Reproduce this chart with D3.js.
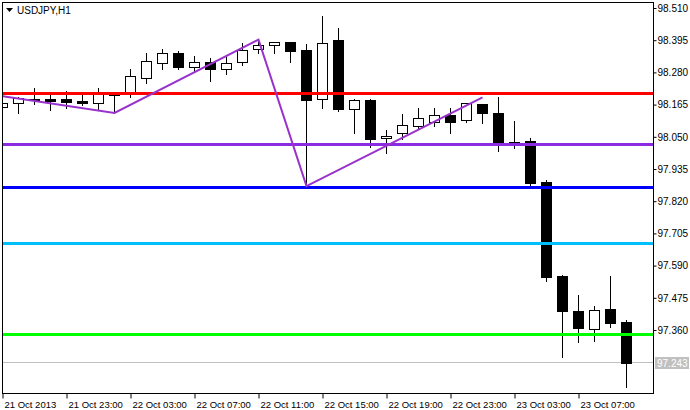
<!DOCTYPE html>
<html><head><meta charset="utf-8">
<script src="https://cdn.jsdelivr.net/npm/d3@7"></script>
<style>html,body{margin:0;padding:0;background:#fff;}svg{display:block;}</style>
</head><body>
<script>
// ---- data ----
const opens  = [98.158,98.170,98.184,98.185,98.185,98.178,98.172,98.205,98.205,98.261,
                98.315,98.348,98.300,98.316,98.293,98.318,98.362,98.377,98.387,98.360,
                98.184,98.396,98.150,98.181,98.045,98.063,98.090,98.104,98.127,98.109,
                98.167,98.135,98.031,98.035,97.888,97.553,97.427,97.365,97.434,97.388];
const highs  = [98.171,98.192,98.223,98.210,98.215,98.209,98.223,98.206,98.292,98.349,
                98.364,98.356,98.339,98.330,98.336,98.384,98.397,98.387,98.387,98.381,
                98.481,98.439,98.184,98.185,98.074,98.131,98.153,98.152,98.152,98.170,
                98.167,98.193,98.106,98.046,97.896,97.556,97.485,97.446,97.553,97.396];
const lows   = [98.156,98.136,98.167,98.146,98.152,98.165,98.146,98.135,98.193,98.243,
                98.291,98.291,98.283,98.250,98.275,98.308,98.350,98.350,98.318,97.874,
                98.154,98.143,98.065,98.013,97.993,98.041,98.077,98.090,98.065,98.104,
                98.100,98.000,98.011,97.868,97.536,97.265,97.318,97.322,97.372,97.158];
const closes = [98.169,98.190,98.183,98.179,98.173,98.171,98.202,98.200,98.267,98.320,
                98.348,98.300,98.316,98.293,98.313,98.360,98.378,98.387,98.357,98.182,
                98.384,98.150,98.181,98.043,98.053,98.091,98.116,98.127,98.104,98.170,
                98.136,98.029,98.029,97.886,97.550,97.429,97.368,97.430,97.386,97.243];
const yTicks = [98.510,98.395,98.280,98.165,98.050,97.935,97.820,97.705,97.590,97.475,97.360];
const xTickIdx = [0,4,8,12,16,20,24,28,32,36];
const xTickLabels = ["21 Oct 2013","21 Oct 23:00","22 Oct 03:00","22 Oct 07:00","22 Oct 11:00",
                     "22 Oct 15:00","22 Oct 19:00","22 Oct 23:00","23 Oct 03:00","23 Oct 07:00"];
const levelPrices = [98.206, 98.024, 97.870, 97.670, 97.345];
const levelColors = ["#ff0000","#8a2be2","#0000ff","#00bfff","#00ff00"];
const zzIdx   = [0, 7, 16, 19, 30];
const zzPrice = [98.195, 98.135, 98.397, 97.874, 98.191];
const lastPrice = 97.243;
const title = "USDJPY,H1";

// ---- drawing ----
const W = 690, H = 410;
const L = 2, T = 2, R = 653, B = 393;
const font = "'Liberation Sans', Arial, sans-serif";
const svg = d3.select("body").append("svg").attr("width", W).attr("height", H);
svg.append("rect").attr("width", W).attr("height", H).attr("fill", "#fff");

const x = d3.scaleLinear().domain([0, 39]).range([2.5, 626.5]);
const y = d3.scaleLinear().domain([97.360, 98.510]).range([330, 8]);

svg.append("clipPath").attr("id", "plot").append("rect")
  .attr("x", L + 1).attr("y", T + 1).attr("width", R - L - 1).attr("height", B - T - 1);
const g = svg.append("g").attr("clip-path", "url(#plot)");

const bars = d3.range(opens.length).map(i => ({i, o: opens[i], h: highs[i], l: lows[i], c: closes[i]}));

// last price line
g.append("line").attr("x1", L).attr("x2", R)
  .attr("y1", Math.round(y(lastPrice)) - 0.5).attr("y2", Math.round(y(lastPrice)) - 0.5)
  .attr("stroke", "#c0c0c0").attr("stroke-width", 1);

// wicks
g.selectAll("line.wick").data(bars).join("line").attr("class", "wick")
  .attr("x1", d => x(d.i)).attr("x2", d => x(d.i))
  .attr("y1", d => Math.round(y(d.h))).attr("y2", d => Math.round(y(d.l)) + 1)
  .attr("stroke", "#000").attr("stroke-width", 1);

// bodies
bars.forEach(d => {
  const top = Math.round(y(Math.max(d.o, d.c)));
  const bot = Math.round(y(Math.min(d.o, d.c)));
  const cx = x(d.i) - 0.5;
  if (d.c > d.o) {
    g.append("rect").attr("x", cx - 4.5).attr("y", top + 0.5)
      .attr("width", 10).attr("height", Math.max(1, bot - top))
      .attr("fill", "#fff").attr("stroke", "#000").attr("stroke-width", 1);
  } else {
    g.append("rect").attr("x", cx - 5).attr("y", top)
      .attr("width", 11).attr("height", Math.max(1, bot - top + 1))
      .attr("fill", "#000");
  }
});

// horizontal levels
g.selectAll("line.level").data(levelPrices).join("line").attr("class", "level")
  .attr("x1", L).attr("x2", R)
  .attr("y1", d => Math.round(y(d)) + 0.5).attr("y2", d => Math.round(y(d)) + 0.5)
  .attr("stroke", (d, i) => levelColors[i]).attr("stroke-width", 3);

// zigzag
g.append("path")
  .attr("d", d3.line().x((d, k) => x(zzIdx[k])).y(d => y(d))(zzPrice))
  .attr("fill", "none").attr("stroke", "#9932cc").attr("stroke-width", 2)
  .attr("stroke-linejoin", "miter");

// frame
svg.append("rect").attr("x", L + 0.5).attr("y", T + 0.5)
  .attr("width", R - L).attr("height", B - T)
  .attr("fill", "none").attr("stroke", "#000").attr("stroke-width", 1);

// right axis
const ya = svg.append("g").attr("transform", `translate(${R + 0.5},0)`)
  .call(d3.axisRight(y).tickValues(yTicks).tickFormat(d3.format(".3f")).tickSize(3).tickPadding(1));
ya.select(".domain").remove();
ya.selectAll("text").attr("font-family", font).attr("font-size", 10).attr("fill", "#000");
ya.selectAll("line").attr("stroke", "#000");

// bottom axis
const xa = svg.append("g").attr("transform", `translate(0,${B + 0.5})`)
  .call(d3.axisBottom(x).tickValues(xTickIdx).tickFormat((d, i) => xTickLabels[i]).tickSize(5).tickPadding(3));
xa.select(".domain").remove();
xa.selectAll("text").attr("font-family", font).attr("font-size", 9.5).attr("fill", "#000")
  .attr("text-anchor", "start").attr("dx", 1.5);
xa.selectAll("line").attr("stroke", "#000");

// last price tag
const ly = Math.round(y(lastPrice));
svg.append("rect").attr("x", 655).attr("y", ly - 6).attr("width", 34).attr("height", 12).attr("fill", "#c0c0c0");
svg.append("text").attr("x", 657).attr("y", ly + 3.5).text(d3.format(".3f")(lastPrice))
  .attr("font-family", font).attr("font-size", 10).attr("fill", "#fff");

// title
svg.append("path").attr("d", "M6,8 L13,8 L9.5,12 Z").attr("fill", "#000");
svg.append("text").attr("x", 17).attr("y", 14).text(title)
  .attr("font-family", font).attr("font-size", 10).attr("fill", "#000");
</script>
</body></html>
